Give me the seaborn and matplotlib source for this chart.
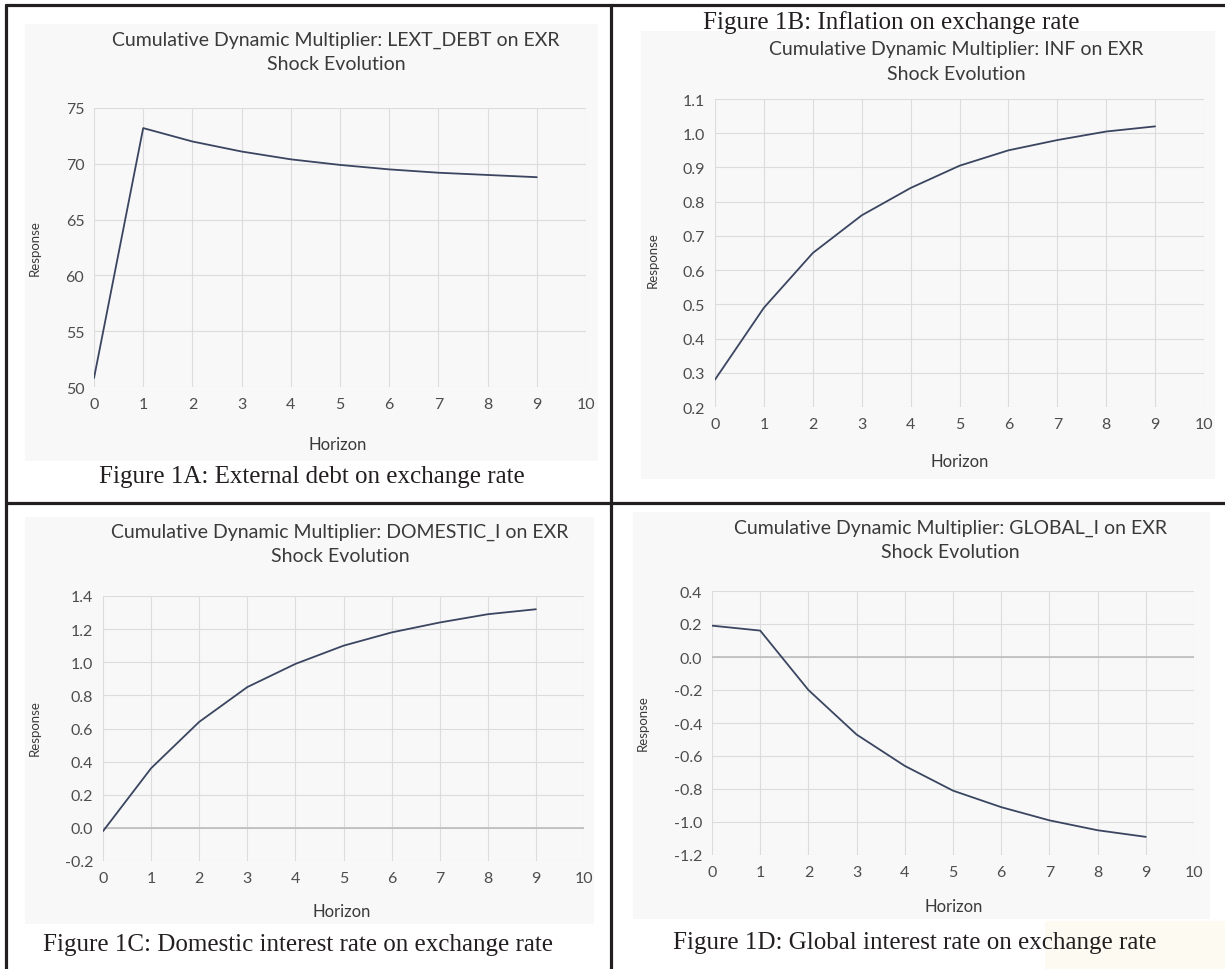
import numpy as np
import pandas as pd
import matplotlib
matplotlib.use('Agg')
import matplotlib.pyplot as plt
from matplotlib.patches import Rectangle, Polygon
from matplotlib.lines import Line2D
import seaborn as sns

# horizons 0..9
horizon = [0, 1, 2, 3, 4, 5, 6, 7, 8, 9]

# cumulative dynamic multipliers
lext_debt = [50.8, 73.2, 72.0, 71.1, 70.4, 69.9, 69.5, 69.2, 69.0, 68.8]
inf = [0.28, 0.49, 0.65, 0.76, 0.84, 0.905, 0.95, 0.98, 1.005, 1.02]
domestic_i = [-0.02, 0.36, 0.64, 0.85, 0.99, 1.10, 1.18, 1.24, 1.29, 1.32]
global_i = [0.19, 0.16, -0.20, -0.47, -0.66, -0.81, -0.91, -0.99, -1.05, -1.09]

titles = ['LEXT_DEBT', 'INF', 'DOMESTIC_I', 'GLOBAL_I']
captions = ['Figure 1A: External debt on exchange rate',
            'Figure 1B: Inflation on exchange rate',
            'Figure 1C: Domestic interest rate on exchange rate',
            'Figure 1D: Global interest rate on exchange rate']

yticks_a = [50, 55, 60, 65, 70, 75]
yticks_b = [0.2, 0.3, 0.4, 0.5, 0.6, 0.7, 0.8, 0.9, 1.0, 1.1]
yticks_c = [-0.2, 0.0, 0.2, 0.4, 0.6, 0.8, 1.0, 1.2, 1.4]
yticks_d = [-1.2, -1.0, -0.8, -0.6, -0.4, -0.2, 0.0, 0.2, 0.4]

W, H = 1225, 970
sns.set_style('white')
plt.rcParams['font.family'] = ['Lato', 'DejaVu Sans']

fig = plt.figure(figsize=(W / 100, H / 100), dpi=100)


def fx(x):
    return x / W


def fy(y):
    return 1 - y / H


def add_panel(values, name, yticks, fmt, box, bg, title_xy, hor_xy, resp_xy, zero_line):
    l, t, r, b = box
    # faint chart background, behind the axes
    fig.patches.append(Rectangle((fx(bg[0]), fy(bg[3])), (bg[2] - bg[0]) / W, (bg[3] - bg[1]) / H,
                                 transform=fig.transFigure, facecolor='#f8f8f8', edgecolor='none', zorder=-10))
    ax = fig.add_axes([fx(l), fy(b), (r - l) / W, (b - t) / H])
    ax.set_facecolor('none')
    df = pd.DataFrame({'Horizon': horizon, 'Response': values})
    sns.lineplot(data=df, x='Horizon', y='Response', ax=ax, color='#3a4560', linewidth=1.3, zorder=3)
    ax.set_xlim(0, 10)
    ax.set_ylim(yticks[0], yticks[-1])
    ax.set_xticks(range(0, 11))
    ax.set_yticks(yticks)
    ax.set_yticklabels([fmt.format(v) for v in yticks])
    ax.grid(True, color='#dcdcdc', linewidth=0.8)
    for s in ax.spines.values():
        s.set_visible(False)
    if zero_line:
        ax.axhline(0, color='#bcbcbc', linewidth=1.2, zorder=2)
    ax.tick_params(length=0, labelsize=11.5, labelcolor='#4d4d4d', pad=7)
    ax.set_xlabel('')
    ax.set_ylabel('')
    fig.text(fx(title_xy[0]), fy(title_xy[1]), f'Cumulative Dynamic Multiplier: {name} on EXR',
             ha='center', va='center', fontsize=14, color='#3a3a3a')
    fig.text(fx(title_xy[0]), fy(title_xy[1] + 25), 'Shock Evolution',
             ha='center', va='center', fontsize=14, color='#3a3a3a')
    fig.text(fx(hor_xy[0]), fy(hor_xy[1]), 'Horizon', ha='center', va='center',
             fontsize=12, color='#3a3a3a')
    fig.text(fx(resp_xy[0]), fy(resp_xy[1]), 'Response', ha='center', va='center',
             rotation=90, fontsize=9.5, color='#3a3a3a')
    return ax


add_panel(lext_debt, titles[0], yticks_a, '{:.0f}', (94, 109, 586, 388), (25, 25, 598, 462),
          (336, 40), (338, 445), (35, 248), False)
add_panel(inf, titles[1], yticks_b, '{:.1f}', (715, 100, 1204, 408), (641, 32, 1215, 480),
          (956, 49), (960, 462), (653, 260), False)
add_panel(domestic_i, titles[2], yticks_c, '{:.1f}', (103, 597, 584, 862), (25, 518, 594, 925),
          (340, 532), (342, 912), (35, 728), True)
add_panel(global_i, titles[3], yticks_d, '{:.1f}', (712, 592, 1194, 856), (633, 513, 1210, 920),
          (950, 528), (954, 907), (643, 723), True)

# pale watermark in the bottom right corner of the page
wm = [(1045, 970), (1045, 922), (1225, 922), (1225, 970)]
fig.patches.append(Polygon([(fx(x), fy(y)) for x, y in wm], closed=True, transform=fig.transFigure,
                           facecolor='#fdfaf1', edgecolor='none', zorder=-20))

# captions in serif, like the document they came from
cap_pos = [(312, 477), (891, 23), (298, 945), (915, 943)]
for (cx, cy), text in zip(cap_pos, captions):
    fig.text(fx(cx), fy(cy), text, ha='center', va='center', fontsize=18,
             family=['Liberation Serif', 'DejaVu Serif'], color='#231f20')

# table borders
border = dict(color='#231f20', linewidth=2.3, transform=fig.transFigure)
fig.lines.append(Line2D([fx(6), fx(6)], [fy(6), fy(970)], **border))
fig.lines.append(Line2D([fx(611), fx(611)], [fy(6), fy(970)], **border))
fig.lines.append(Line2D([fx(6), fx(1225)], [fy(6), fy(6)], **border))
fig.lines.append(Line2D([fx(6), fx(1225)], [fy(504), fy(504)], **border))

fig.savefig('out.png', dpi=100, facecolor='white')
